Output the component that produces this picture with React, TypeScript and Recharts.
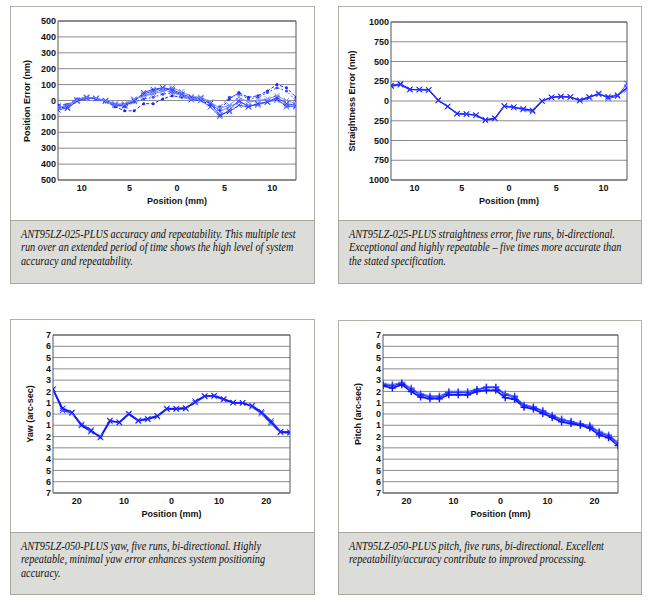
import React from "react";
import { LineChart, Line, XAxis, YAxis, CartesianGrid, ReferenceLine } from "recharts";

// positions (mm)
const POS_25 = [-12.5, -11.5, -10.5, -9.5, -8.5, -7.5, -6.5, -5.5, -4.5, -3.5, -2.5, -1.5, -0.5, 0.5, 1.5, 2.5, 3.5, 4.5, 5.5, 6.5, 7.5, 8.5, 9.5, 10.5, 11.5, 12.5];
const POS_50 = [-25, -23, -21, -19, -17, -15, -13, -11, -9, -7, -5, -3, -1, 1, 3, 5, 7, 9, 11, 13, 15, 17, 19, 21, 23, 25];

const TICKS_X25 = [-10, -5, 0, 5, 10];
const TICKS_X50 = [-20, -10, 0, 10, 20];
const TICKS_NM500 = [-500, -400, -300, -200, -100, 0, 100, 200, 300, 400, 500];
const TICKS_NM1000 = [-1000, -750, -500, -250, 0, 250, 500, 750, 1000];
const TICKS_ARC = [-7, -6, -5, -4, -3, -2, -1, 0, 1, 2, 3, 4, 5, 6, 7];

// accuracy runs (nm)
const ACC_A = [-60, -45, -5, 15, 12, -5, -30, -35, 0, 40, 60, 80, 70, 40, 20, 15, -20, -90, -70, -30, -40, -20, -10, 10, -40, -35];
const ACC_B = [-40, -35, 5, 20, 15, 0, -20, -25, 5, 30, 40, 60, 80, 55, 25, 20, -10, -70, -40, -10, -30, -30, -5, 0, -30, -40];
const ACC_C = [-30, -25, 10, 20, 10, -5, -40, -65, -65, -20, -20, 10, 30, 20, 10, 5, -30, -60, 10, 50, 20, 30, 60, 100, 80, 20];
const ACC_D = [-50, -40, 0, 15, 10, -10, -30, -40, -10, 10, 20, 40, 50, 30, 15, 10, -20, -40, 20, 40, 10, 20, 50, 80, 60, 0];
const ACC_E = [-35, -50, 0, 18, 12, 0, -25, -30, -5, 50, 70, 80, 60, 35, 5, 0, -40, -100, -60, 0, -40, -20, -10, 20, -20, -30];
const ACC_F = [-45, -30, 5, 22, 15, -5, -25, -20, 10, 30, 50, 70, 50, 30, 10, 10, -10, -50, -30, 20, -10, 0, 10, 30, 0, -20];

// straightness runs (nm)
const STR_1 = [190, 210, 145, 145, 140, 10, -70, -160, -165, -180, -245, -220, -65, -80, -100, -120, 0, 45, 55, 50, 10, 50, 90, 50, 70, 170];
const STR_2 = [200, 220, 150, 140, 135, 5, -65, -165, -170, -175, -235, -215, -60, -75, -110, -135, -5, 50, 60, 55, 0, 40, 100, 30, 60, 220];
const STR_3 = [185, 200, 140, 150, 145, 15, -75, -155, -160, -185, -240, -225, -70, -85, -95, -115, 5, 40, 50, 45, 15, 55, 80, 60, 80, 140];

// yaw runs (arc-sec)
const YAW_1 = [2.2, 0.5, 0.15, -1.0, -1.5, -2.05, -0.6, -0.75, 0, -0.6, -0.45, -0.2, 0.45, 0.45, 0.5, 1.1, 1.6, 1.6, 1.3, 1.0, 1.0, 0.7, 0.1, -0.75, -1.6, -1.65];
const YAW_2 = [2.2, 0.3, 0.1, -0.9, -1.4, -2.1, -0.65, -0.7, 0.05, -0.55, -0.4, -0.15, 0.5, 0.5, 0.55, 1.0, 1.55, 1.65, 1.35, 1.0, 0.95, 0.75, 0.2, -0.6, -1.55, -1.6];
const YAW_3 = [2.1, 0.45, 0.05, -1.05, -1.6, -1.95, -0.55, -0.8, -0.05, -0.65, -0.5, -0.25, 0.4, 0.4, 0.45, 1.15, 1.6, 1.55, 1.25, 1.05, 1.0, 0.6, 0.0, -0.85, -1.65, -1.7];

// pitch runs (arc-sec)
const PIT_1 = [2.5, 2.3, 2.6, 2.0, 1.5, 1.35, 1.35, 1.7, 1.7, 1.7, 2.0, 2.1, 2.1, 1.45, 1.3, 0.6, 0.45, 0.05, -0.3, -0.7, -0.85, -1.0, -1.25, -1.85, -2.1, -2.8];
const PIT_2 = [2.6, 2.5, 2.7, 2.2, 1.7, 1.5, 1.5, 1.9, 1.9, 1.9, 2.15, 2.35, 2.35, 1.7, 1.5, 0.75, 0.6, 0.25, -0.15, -0.5, -0.7, -0.9, -1.1, -1.65, -1.95, -2.6];
const PIT_3 = [2.7, 2.6, 2.8, 2.3, 1.8, 1.6, 1.6, 2.0, 2.0, 2.0, 2.2, 2.4, 2.4, 1.8, 1.6, 0.8, 0.65, 0.3, -0.1, -0.45, -0.65, -0.85, -1.0, -1.55, -1.85, -2.5];

const CAPTIONS = [
  ["ANT95LZ-025-PLUS accuracy and repeatability. This multiple test", "run over an extended period of time shows the high level of system", "accuracy and repeatability."],
  ["ANT95LZ-025-PLUS straightness error, five runs, bi-directional.", "Exceptional and highly repeatable – five times more accurate than", "the stated specification."],
  ["ANT95LZ-050-PLUS yaw, five runs, bi-directional. Highly", "repeatable, minimal yaw error enhances system positioning", "accuracy."],
  ["ANT95LZ-050-PLUS pitch, five runs, bi-directional. Excellent", "repeatability/accuracy contribute to improved processing."],
];

const table = (xs: number[], series: Record<string, number[]>) =>
  xs.map((x, i) => {
    const row: any = { x };
    Object.keys(series).forEach((k) => (row[k] = series[k][i]));
    return row;
  });

const accData = table(POS_25, { a: ACC_A, b: ACC_B, c: ACC_C, d: ACC_D, e: ACC_E, f: ACC_F });
const strData = table(POS_25, { s1: STR_1, s2: STR_2, s3: STR_3 });
const yawData = table(POS_50, { y1: YAW_1, y2: YAW_2, y3: YAW_3 });
const pitData = table(POS_50, { p1: PIT_1, p2: PIT_2, p3: PIT_3 });

const SANS = "'Liberation Sans', Arial, Helvetica, sans-serif";
const SERIF = "'Liberation Serif', 'Times New Roman', serif";
const abs = (v: number) => String(Math.abs(v));

const XMark = (props: any) => {
  const { cx, cy, stroke, index } = props;
  if (cx == null || cy == null) return <g key={index} />;
  const s = 2.6;
  return (
    <path key={index} d={`M${cx - s},${cy - s}L${cx + s},${cy + s}M${cx - s},${cy + s}L${cx + s},${cy - s}`} stroke={stroke} strokeWidth={1} fill="none" />
  );
};

const PlusMark = (props: any) => {
  const { cx, cy, stroke, index } = props;
  if (cx == null || cy == null) return <g key={index} />;
  const s = 3.5;
  return (
    <path key={index} d={`M${cx - s},${cy}L${cx + s},${cy}M${cx},${cy - s}L${cx},${cy + s}`} stroke={stroke} strokeWidth={1.4} fill="none" />
  );
};

const DotMark = (props: any) => {
  const { cx, cy, stroke, index } = props;
  if (cx == null || cy == null) return <g key={index} />;
  return <circle key={index} cx={cx} cy={cy} r={1.5} fill={stroke} />;
};

type Box = { x: number; y: number; w: number; h: number; cap: number };
type Plot = { x1: number; y1: number; x2: number; y2: number };

function Panel({
  box, plot, caption, yLabel, yLabelX, data, xDomain, xTicks, yDomain, yTicks, children,
}: {
  box: Box; plot: Plot; caption: string[]; yLabel: string; yLabelX: number; data: any[];
  xDomain: number[]; xTicks: number[]; yDomain: number[]; yTicks: number[]; children: React.ReactNode;
}) {
  const chartH = box.cap - box.y;
  const yAxisW = 30;
  const xAxisH = 20;
  const margin = {
    left: plot.x1 - box.x - yAxisW,
    top: plot.y1 - box.y,
    right: box.x + box.w - plot.x2,
    bottom: chartH - (plot.y2 - box.y) - xAxisH,
  };
  const tickStyle = { fontFamily: SANS, fontSize: 9, fontWeight: 700, fill: "#111" };
  return (
    <>
      <div style={{ position: "absolute", left: box.x, top: box.y, width: box.w, height: box.h, boxSizing: "border-box", border: "1px solid #b2b2ab", background: "#fff" }} />
      <div
        style={{
          position: "absolute", left: box.x, top: box.cap, width: box.w, height: box.y + box.h - box.cap,
          boxSizing: "border-box", border: "1px solid #a9a9a2", background: "#dcdcd8",
          padding: "7px 0 0 10px", fontFamily: SERIF, fontStyle: "italic", fontSize: 11.5,
          lineHeight: "13.4px", color: "#111",
        }}
      >
        {caption.map((line, i) => (
          <div key={i} style={{ whiteSpace: "nowrap", transform: "scaleX(0.89)", transformOrigin: "left center" }}>
            {line}
          </div>
        ))}
      </div>
      <div style={{ position: "absolute", left: box.x, top: box.y }}>
        <LineChart width={box.w} height={chartH} data={data} margin={margin}>
          <CartesianGrid vertical={false} stroke="#8c8c8c" strokeWidth={1} />
          <XAxis
            dataKey="x" type="number" domain={xDomain} ticks={xTicks} tickFormatter={abs}
            allowDataOverflow axisLine={false} tickLine={false} tickSize={0} tickMargin={5}
            height={xAxisH} tick={tickStyle} interval={0}
          />
          <YAxis
            type="number" domain={yDomain} ticks={yTicks} tickFormatter={abs}
            allowDataOverflow axisLine={false} tickLine={false} tickSize={0} tickMargin={2}
            width={yAxisW} tick={tickStyle} interval={0}
          />
          <ReferenceLine x={xDomain[0]} stroke="#555" strokeWidth={1} />
          <ReferenceLine x={xDomain[1]} stroke="#555" strokeWidth={1} />
          <ReferenceLine y={yDomain[0]} stroke="#555" strokeWidth={1} />
          <ReferenceLine y={yDomain[1]} stroke="#555" strokeWidth={1} />
          {children}
        </LineChart>
      </div>
      <div
        style={{
          position: "absolute", left: yLabelX, top: (plot.y1 + plot.y2) / 2, transform: "translate(-50%, -50%) rotate(-90deg)",
          whiteSpace: "nowrap", fontFamily: SANS, fontWeight: 700, fontSize: 9, color: "#111",
        }}
      >
        {yLabel}
      </div>
      <div
        style={{
          position: "absolute", left: plot.x1, width: plot.x2 - plot.x1, top: plot.y2 + 15, textAlign: "center",
          fontFamily: SANS, fontWeight: 700, fontSize: 9, lineHeight: "12px", color: "#111",
        }}
      >
        Position (mm)
      </div>
    </>
  );
}

export default function App() {
  return (
    <div style={{ position: "absolute", left: 0, top: 0, width: 650, height: 605, background: "#fff", overflow: "hidden" }}>
      <Panel
        box={{ x: 10, y: 6, w: 305, h: 278, cap: 220 }}
        plot={{ x1: 58, y1: 21, x2: 296, y2: 180 }}
        caption={CAPTIONS[0]} yLabel="Position Error (nm)" yLabelX={27}
        data={accData} xDomain={[-12.5, 12.5]} xTicks={TICKS_X25} yDomain={[-500, 500]} yTicks={TICKS_NM500}
      >
        <Line dataKey="a" stroke="#2a3cff" strokeWidth={1} dot={XMark} isAnimationActive={false} />
        <Line dataKey="b" stroke="#6a7bff" strokeWidth={1} dot={XMark} isAnimationActive={false} />
        <Line dataKey="c" stroke="#1426ff" strokeWidth={1} strokeDasharray="3 2" dot={DotMark} isAnimationActive={false} />
        <Line dataKey="d" stroke="#3a4cff" strokeWidth={1} strokeDasharray="2 2" dot={DotMark} isAnimationActive={false} />
        <Line dataKey="e" stroke="#3345ff" strokeWidth={1} dot={XMark} isAnimationActive={false} />
        <Line dataKey="f" stroke="#8090ff" strokeWidth={1} dot={XMark} isAnimationActive={false} />
      </Panel>
      <Panel
        box={{ x: 338, y: 6, w: 304, h: 278, cap: 220 }}
        plot={{ x1: 391, y1: 22, x2: 627, y2: 180 }}
        caption={CAPTIONS[1]} yLabel="Straightness Error (nm)" yLabelX={352}
        data={strData} xDomain={[-12.5, 12.5]} xTicks={TICKS_X25} yDomain={[-1000, 1000]} yTicks={TICKS_NM1000}
      >
        <Line dataKey="s3" stroke="#7080ff" strokeWidth={1} dot={XMark} isAnimationActive={false} />
        <Line dataKey="s2" stroke="#3344ff" strokeWidth={1} dot={XMark} isAnimationActive={false} />
        <Line dataKey="s1" stroke="#1a22ff" strokeWidth={1.3} dot={XMark} isAnimationActive={false} />
      </Panel>
      <Panel
        box={{ x: 10, y: 319, w: 305, h: 276, cap: 532 }}
        plot={{ x1: 53, y1: 335, x2: 290, y2: 493 }}
        caption={CAPTIONS[2]} yLabel="Yaw (arc-sec)" yLabelX={30}
        data={yawData} xDomain={[-25, 25]} xTicks={TICKS_X50} yDomain={[-7, 7]} yTicks={TICKS_ARC}
      >
        <Line dataKey="y3" stroke="#6a7aff" strokeWidth={1.2} dot={XMark} isAnimationActive={false} />
        <Line dataKey="y2" stroke="#2a3bff" strokeWidth={1.4} dot={XMark} isAnimationActive={false} />
        <Line dataKey="y1" stroke="#0f14ff" strokeWidth={1.6} dot={XMark} isAnimationActive={false} />
      </Panel>
      <Panel
        box={{ x: 338, y: 320, w: 304, h: 275, cap: 532 }}
        plot={{ x1: 383, y1: 335, x2: 618, y2: 493 }}
        caption={CAPTIONS[3]} yLabel="Pitch (arc-sec)" yLabelX={358}
        data={pitData} xDomain={[-25, 25]} xTicks={TICKS_X50} yDomain={[-7, 7]} yTicks={TICKS_ARC}
      >
        <Line dataKey="p3" stroke="#6a7aff" strokeWidth={1.2} dot={PlusMark} isAnimationActive={false} />
        <Line dataKey="p2" stroke="#2a3bff" strokeWidth={1.5} dot={PlusMark} isAnimationActive={false} />
        <Line dataKey="p1" stroke="#0f14ff" strokeWidth={1.7} dot={PlusMark} isAnimationActive={false} />
      </Panel>
    </div>
  );
}
